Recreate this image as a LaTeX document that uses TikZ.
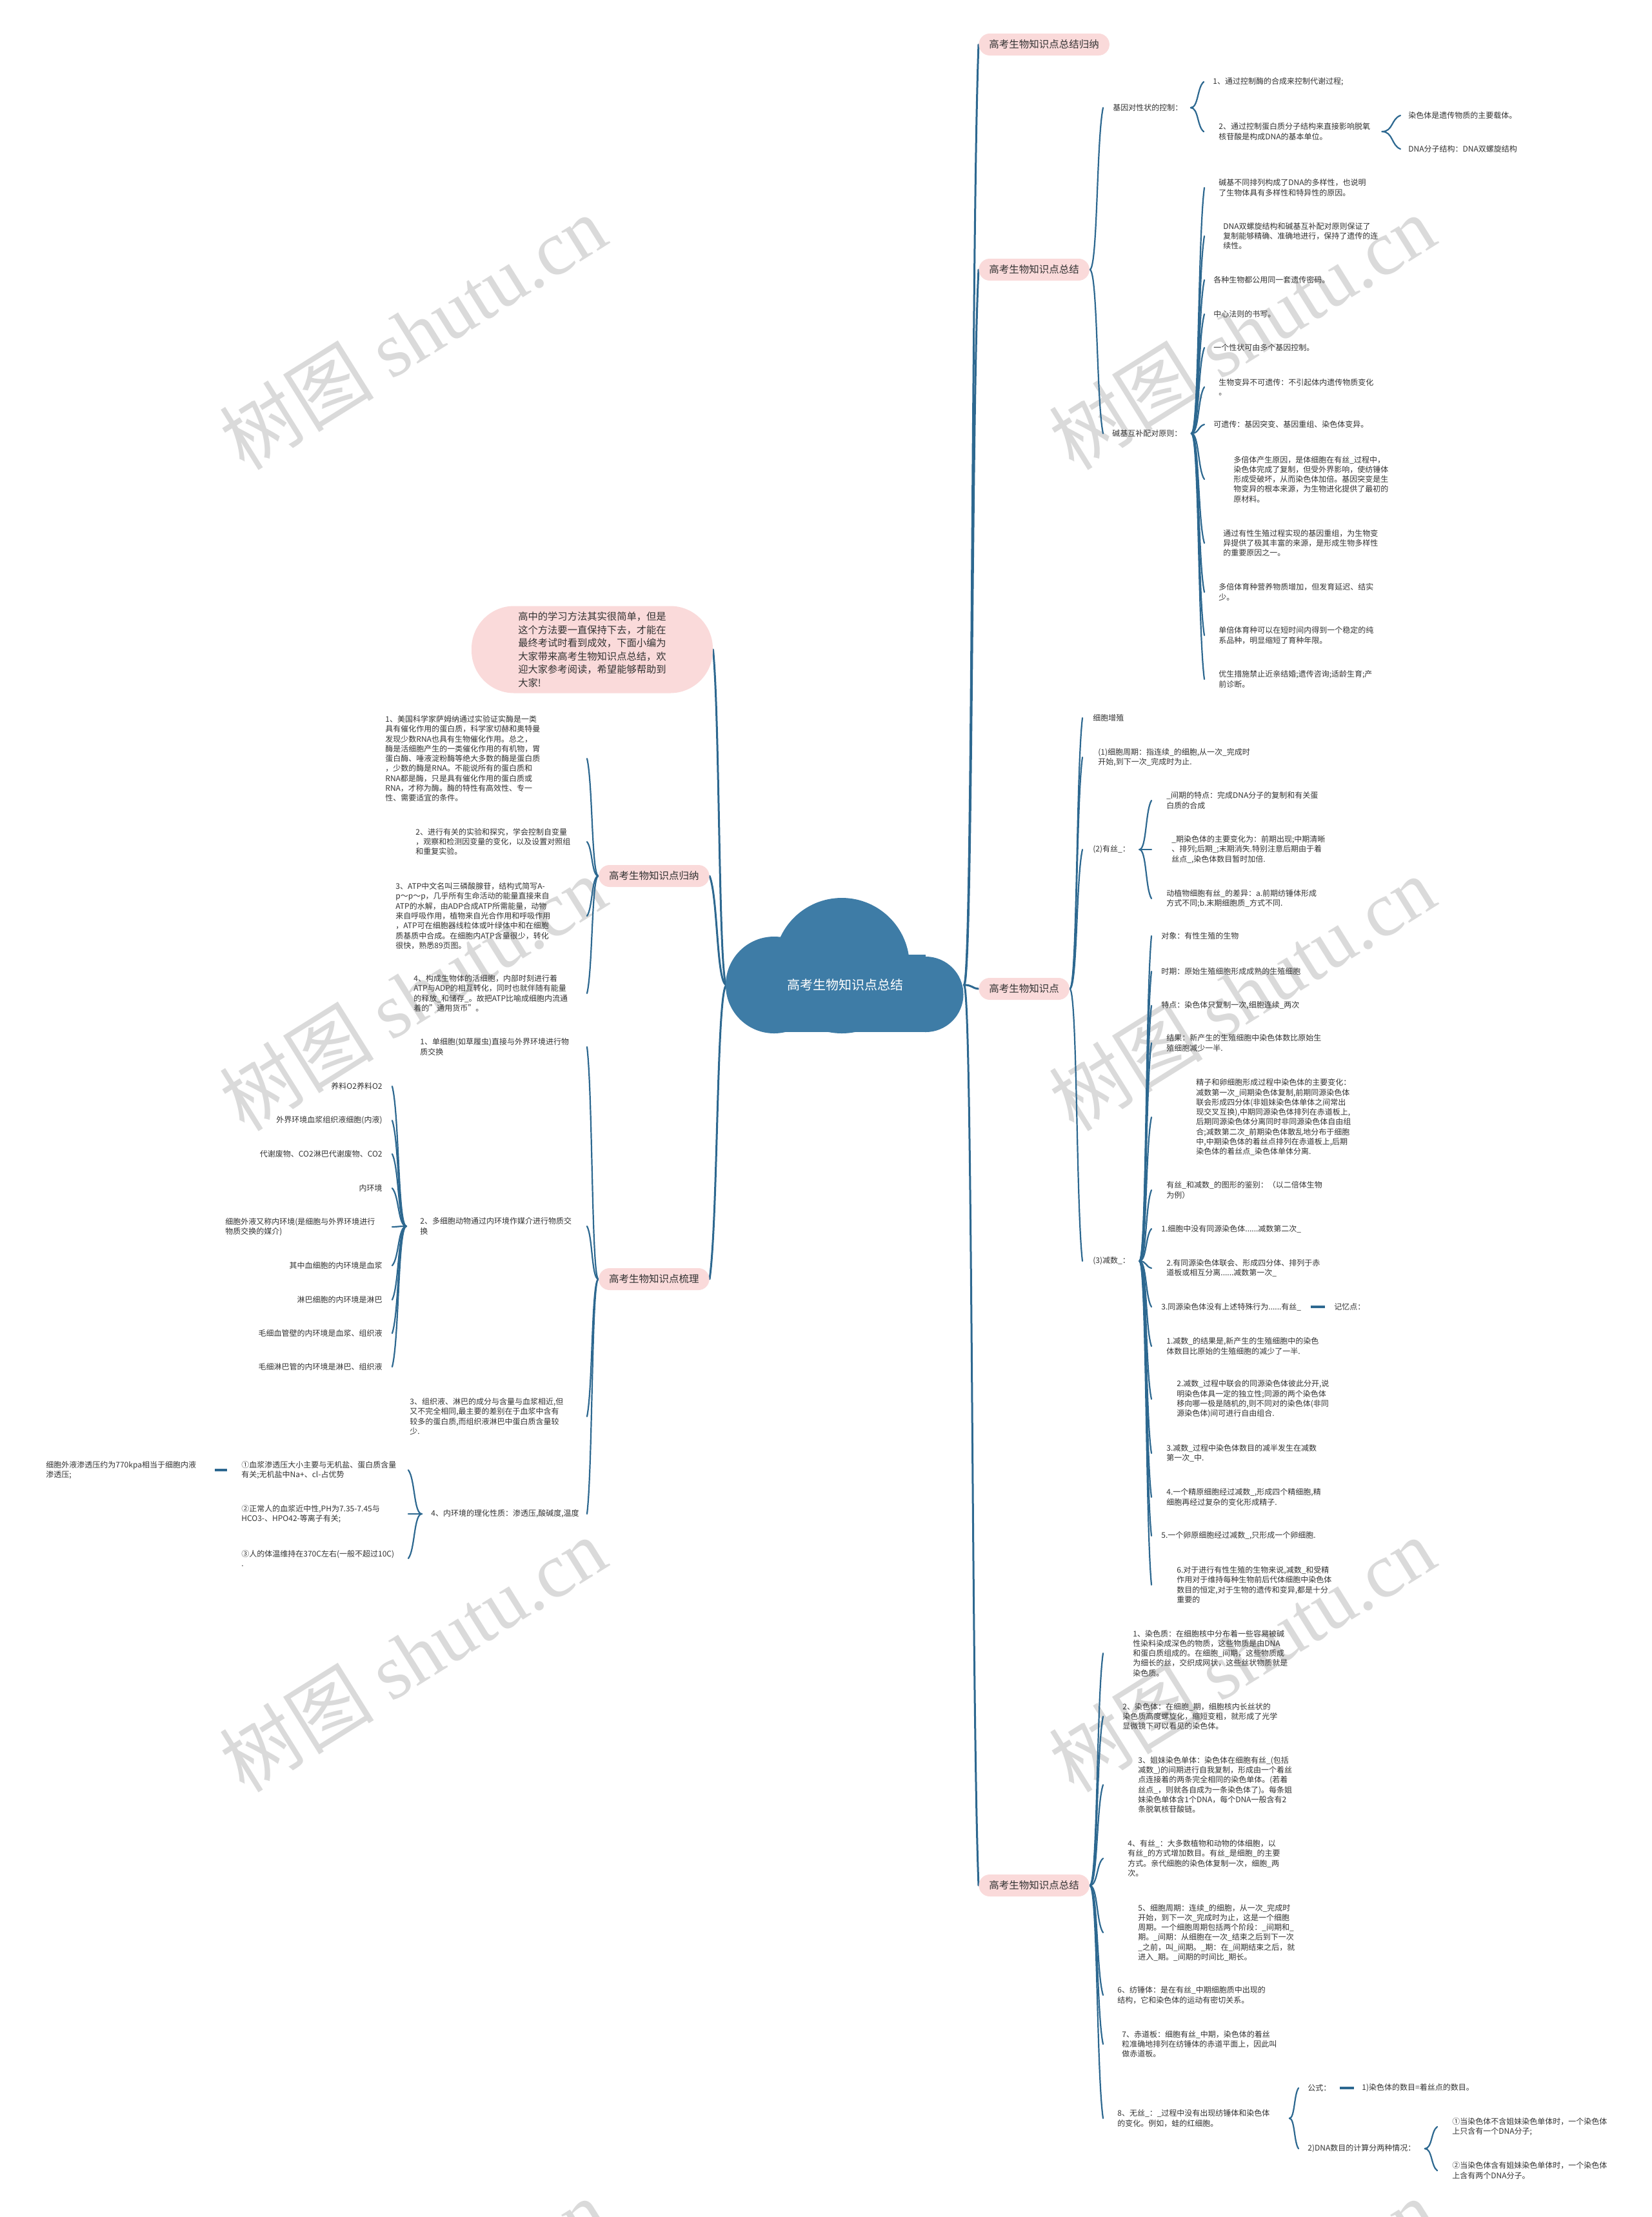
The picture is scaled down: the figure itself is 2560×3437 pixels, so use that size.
\documentclass[tikz,border=0pt]{standalone}
\usepackage{fontspec}
\setmainfont{Noto Sans CJK SC}
\newfontfamily\wmlatin{Liberation Serif}
\usetikzlibrary{calc}
\pgfdeclarelayer{bg}
\pgfsetlayers{bg,main}
\definecolor{pinkc}{HTML}{FADADA}
\definecolor{cloudc}{HTML}{3E7CA6}
\definecolor{linec}{HTML}{2D6890}
\definecolor{textc}{HTML}{333333}
\definecolor{wmc}{HTML}{DADADA}
\tikzset{
 btitle/.style={fill=pinkc, rounded corners=8.5pt, minimum height=17pt, inner xsep=8pt, inner ysep=0pt, text=textc, font=\fontsize{7.75}{9}\selectfont},
 txt/.style={inner sep=0pt, align=left, text=textc, font=\fontsize{6}{7.65}\selectfont},
 conn/.style={draw=linec, line width=1.1pt, line cap=round},
 trunk/.style={draw=linec, line width=1.5pt, line cap=round},
 dashln/.style={draw=linec, line width=1.6pt},
 wm/.style={text=wmc, rotate=32, font=\fontsize{60}{62}\selectfont, inner sep=0pt},
}
\newcommand{\mmlink}[3][conn]{\draw[#1] let \p1=(#2), \p2=(#3) in (\p1) .. controls ({\x1+0.6*(\x2-\x1)},\y1) and ({\x2-0.5*(\x2-\x1)},{\y2-0.2*(\y2-\y1)}) .. (\p2);}
\begin{document}
\begin{tikzpicture}[x=0.5pt,y=-0.5pt]
\useasboundingbox (0,0) rectangle (2560,3437);

% ---------- centre ----------
\node[minimum width=183.5pt, inner sep=0pt, text=white, font=\fontsize{10}{12}\selectfont] (c) at (1310.5,1527) {高考生物知识点总结};

% ---------- right branch titles ----------
\node[btitle, anchor=west] (b1) at (1517,69) {高考生物知识点总结归纳};
\node[btitle, anchor=west] (b2) at (1517,418) {高考生物知识点总结};
\node[btitle, anchor=west] (b3) at (1517,1533) {高考生物知识点};
\node[btitle, anchor=west] (b4) at (1517,2923) {高考生物知识点总结};

% ---------- left branch titles ----------
\node[fill=pinkc, rounded corners=33pt, minimum width=187pt, minimum height=67.5pt, inner sep=0pt, align=left, text=textc, font=\fontsize{7.65}{10.25}\selectfont] (intro) at (918,1007) {高中的学习方法其实很简单，但是\\这个方法要一直保持下去，才能在\\最终考试时看到成效，下面小编为\\大家带来高考生物知识点总结，欢\\迎大家参考阅读，希望能够帮助到\\大家!};
\node[btitle, anchor=east] (gn) at (1100,1358) {高考生物知识点归纳};
\node[btitle, anchor=east] (sl) at (1100,1983) {高考生物知识点梳理};

% ---------- b2 ----------
\node[txt, anchor=west] (kz) at (1725,167) {基因对性状的控制：};
\node[txt, anchor=west] (kz1) at (1880,127) {1、通过控制酶的合成来控制代谢过程;};
\node[txt, anchor=west] (kz2) at (1889,204) {2、通过控制蛋白质分子结构来直接影响脱氧\\核苷酸是构成DNA的基本单位。};
\node[txt, anchor=west] (kz2a) at (2183,179) {染色体是遗传物质的主要载体。};
\node[txt, anchor=west] (kz2b) at (2183,231) {DNA分子结构：DNA双螺旋结构};
\node[txt, anchor=west] (jd) at (1724,672) {碱基互补配对原则：};
\node[txt, anchor=west] (jd1) at (1889,291) {碱基不同排列构成了DNA的多样性，也说明\\了生物体具有多样性和特异性的原因。};
\node[txt, anchor=west] (jd2) at (1896,366) {DNA双螺旋结构和碱基互补配对原则保证了\\复制能够精确、准确地进行，保持了遗传的连\\续性。};
\node[txt, anchor=west] (jd3) at (1881,434) {各种生物都公用同一套遗传密码。};
\node[txt, anchor=west] (jd4) at (1881,487) {中心法则的书写。};
\node[txt, anchor=west] (jd5) at (1881,539) {一个性状可由多个基因控制。};
\node[txt, anchor=west] (jd6) at (1889,600) {生物变异不可遗传：不引起体内遗传物质变化\\。};
\node[txt, anchor=west] (jd7) at (1881,658) {可遗传：基因突变、基因重组、染色体变异。};
\node[txt, anchor=west] (jd8) at (1912,743) {多倍体产生原因，是体细胞在有丝\_过程中，\\染色体完成了复制，但受外界影响，使纺锤体\\形成受破坏，从而染色体加倍。基因突变是生\\物变异的根本来源，为生物进化提供了最初的\\原材料。};
\node[txt, anchor=west] (jd9) at (1896,842) {通过有性生殖过程实现的基因重组，为生物变\\异提供了极其丰富的来源，是形成生物多样性\\的重要原因之一。};
\node[txt, anchor=west] (jd10) at (1889,918) {多倍体育种营养物质增加，但发育延迟、结实\\少。};
\node[txt, anchor=west] (jd11) at (1889,985) {单倍体育种可以在短时间内得到一个稳定的纯\\系品种，明显缩短了育种年限。};
\node[txt, anchor=west] (jd12) at (1889,1053) {优生措施禁止近亲结婚;遗传咨询;适龄生育;产\\前诊断。};

% ---------- b3 ----------
\node[txt, anchor=west] (zz) at (1694,1113) {细胞增殖};
\node[txt, anchor=west] (zq) at (1702,1174) {(1)细胞周期：指连续\_的细胞,从一次\_完成时\\开始,到下一次\_完成时为止.};
\node[txt, anchor=west] (ys) at (1694,1317) {(2)有丝\_：};
\node[txt, anchor=west] (ys1) at (1808,1241) {\_间期的特点：完成DNA分子的复制和有关蛋\\白质的合成};
\node[txt, anchor=west] (ys2) at (1816,1317) {\_期染色体的主要变化为：前期出现;中期清晰\\、排列;后期\_;末期消失.特别注意后期由于着\\丝点\_,染色体数目暂时加倍.};
\node[txt, anchor=west] (ys3) at (1808,1393) {动植物细胞有丝\_的差异：a.前期纺锤体形成\\方式不同;b.末期细胞质\_方式不同.};
\node[txt, anchor=west] (js) at (1694,1955) {(3)减数\_：};
\node[txt, anchor=west] (js1) at (1800,1451) {对象：有性生殖的生物};
\node[txt, anchor=west] (js2) at (1800,1506) {时期：原始生殖细胞形成成熟的生殖细胞};
\node[txt, anchor=west] (js3) at (1800,1559) {特点：染色体只复制一次,细胞连续\_两次};
\node[txt, anchor=west] (js4) at (1808,1617) {结果：新产生的生殖细胞中染色体数比原始生\\殖细胞减少一半.};
\node[txt, anchor=west] (js5) at (1854,1732) {精子和卵细胞形成过程中染色体的主要变化：\\减数第一次\_间期染色体复制,前期同源染色体\\联会形成四分体(非姐妹染色体单体之间常出\\现交叉互换),中期同源染色体排列在赤道板上,\\后期同源染色体分离同时非同源染色体自由组\\合;减数第二次\_前期染色体散乱地分布于细胞\\中,中期染色体的着丝点排列在赤道板上,后期\\染色体的着丝点\_染色体单体分离.};
\node[txt, anchor=west] (js6) at (1808,1845) {有丝\_和减数\_的图形的鉴别：（以二倍体生物\\为例）};
\node[txt, anchor=west] (js7) at (1800,1905) {1.细胞中没有同源染色体......减数第二次\_};
\node[txt, anchor=west] (js8) at (1808,1966) {2.有同源染色体联会、形成四分体、排列于赤\\道板或相互分离......减数第一次\_};
\node[txt, anchor=west] (js9) at (1800,2026) {3.同源染色体没有上述特殊行为......有丝\_};
\node[txt, anchor=west] (jy) at (2068,2026) {记忆点：};
\node[txt, anchor=west] (js10) at (1808,2087) {1.减数\_的结果是,新产生的生殖细胞中的染色\\体数目比原始的生殖细胞的减少了一半.};
\node[txt, anchor=west] (js11) at (1824,2169) {2.减数\_过程中联会的同源染色体彼此分开,说\\明染色体具一定的独立性;同源的两个染色体\\移向哪一极是随机的,则不同对的染色体(非同\\源染色体)间可进行自由组合.};
\node[txt, anchor=west] (js12) at (1808,2253) {3.减数\_过程中染色体数目的减半发生在减数\\第一次\_中.};
\node[txt, anchor=west] (js13) at (1808,2321) {4.一个精原细胞经过减数\_,形成四个精细胞,精\\细胞再经过复杂的变化形成精子.};
\node[txt, anchor=west] (js14) at (1800,2381) {5.一个卵原细胞经过减数\_,只形成一个卵细胞.};
\node[txt, anchor=west] (js15) at (1824,2457) {6.对于进行有性生殖的生物来说,减数\_和受精\\作用对于维持每种生物前后代体细胞中染色体\\数目的恒定,对于生物的遗传和变异,都是十分\\重要的};

% ---------- b4 ----------
\node[txt, anchor=west] (z1) at (1756,2563) {1、染色质：在细胞核中分布着一些容易被碱\\性染料染成深色的物质，这些物质是由DNA\\和蛋白质组成的。在细胞\_间期，这些物质成\\为细长的丝，交织成网状，这些丝状物质就是\\染色质。};
\node[txt, anchor=west] (z2) at (1740,2661) {2、染色体：在细胞\_期，细胞核内长丝状的\\染色质高度螺旋化，缩短变粗，就形成了光学\\显微镜下可以看见的染色体。};
\node[txt, anchor=west] (z3) at (1764,2767) {3、姐妹染色单体：染色体在细胞有丝\_(包括\\减数\_)的间期进行自我复制，形成由一个着丝\\点连接着的两条完全相同的染色单体。(若着\\丝点\_，则就各自成为一条染色体了)。每条姐\\妹染色单体含1个DNA，每个DNA一般含有2\\条脱氧核苷酸链。};
\node[txt, anchor=west] (z4) at (1748,2881) {4、有丝\_：大多数植物和动物的体细胞，以\\有丝\_的方式增加数目。有丝\_是细胞\_的主要\\方式。亲代细胞的染色体复制一次，细胞\_两\\次。};
\node[txt, anchor=west] (z5) at (1764,2996) {5、细胞周期：连续\_的细胞，从一次\_完成时\\开始，到下一次\_完成时为止，这是一个细胞\\周期。一个细胞周期包括两个阶段：\_间期和\_\\期。\_间期：从细胞在一次\_结束之后到下一次\\\_之前，叫\_间期。\_期：在\_间期结束之后，就\\进入\_期。\_间期的时间比\_期长。};
\node[txt, anchor=west] (z6) at (1732,3093) {6、纺锤体：是在有丝\_中期细胞质中出现的\\结构，它和染色体的运动有密切关系。};
\node[txt, anchor=west] (z7) at (1739,3169) {7、赤道板：细胞有丝\_中期，染色体的着丝\\粒准确地排列在纺锤体的赤道平面上，因此叫\\做赤道板。};
\node[txt, anchor=west] (z8) at (1732,3284) {8、无丝\_：\_过程中没有出现纺锤体和染色体\\的变化。例如，蛙的红细胞。};
\node[txt, anchor=west] (gs) at (2027,3237) {公式：};
\node[txt, anchor=west] (gs1) at (2111,3237) {1)染色体的数目=着丝点的数目。};
\node[txt, anchor=west] (dn) at (2027,3331) {2)DNA数目的计算分两种情况：};
\node[txt, anchor=west] (dn1) at (2251,3297) {①当染色体不含姐妹染色单体时，一个染色体\\上只含有一个DNA分子;};
\node[txt, anchor=west] (dn2) at (2251,3365) {②当染色体含有姐妹染色单体时，一个染色体\\上含有两个DNA分子。};

% ---------- left: gn ----------
\node[txt, anchor=west] (g1) at (597,1176) {1、美国科学家萨姆纳通过实验证实酶是一类\\具有催化作用的蛋白质，科学家切赫和奥特曼\\发现少数RNA也具有生物催化作用。总之，\\酶是活细胞产生的一类催化作用的有机物，胃\\蛋白酶、唾液淀粉酶等绝大多数的酶是蛋白质\\，少数的酶是RNA。不能说所有的蛋白质和\\RNA都是酶，只是具有催化作用的蛋白质或\\RNA，才称为酶。酶的特性有高效性、专一\\性、需要适宜的条件。};
\node[txt, anchor=west] (g2) at (644,1305) {2、进行有关的实验和探究，学会控制自变量\\，观察和检测因变量的变化，以及设置对照组\\和重复实验。};
\node[txt, anchor=west] (g3) at (613,1420) {3、ATP中文名叫三磷酸腺苷，结构式简写A-\\p～p～p，几乎所有生命活动的能量直接来自\\ATP的水解，由ADP合成ATP所需能量，动物\\来自呼吸作用，植物来自光合作用和呼吸作用\\，ATP可在细胞器线粒体或叶绿体中和在细胞\\质基质中合成。在细胞内ATP含量很少，转化\\很快，熟悉89页图。};
\node[txt, anchor=west] (g4) at (641,1540) {4、构成生物体的活细胞，内部时刻进行着\\ATP与ADP的相互转化，同时也就伴随有能量\\的释放\_和储存\_。故把ATP比喻成细胞内流通\\着的"通用货币"。};

% ---------- left: sl ----------
\node[txt, anchor=west] (s1) at (651,1623) {1、单细胞(如草履虫)直接与外界环境进行物\\质交换};
\node[txt, anchor=west] (s2) at (651,1901) {2、多细胞动物通过内环境作媒介进行物质交\\换};
\node[txt, anchor=east] (s2a) at (593,1684) {养料O2养料O2};
\node[txt, anchor=east] (s2b) at (593,1737) {外界环境血浆组织液细胞(内液)};
\node[txt, anchor=east] (s2c) at (593,1789) {代谢废物、CO2淋巴代谢废物、CO2};
\node[txt, anchor=east] (s2d) at (593,1842) {内环境};
\node[txt, anchor=west] (s2e) at (349,1902) {细胞外液又称内环境(是细胞与外界环境进行\\物质交换的媒介)};
\node[txt, anchor=east] (s2f) at (593,1962) {其中血细胞的内环境是血浆};
\node[txt, anchor=east] (s2g) at (593,2015) {淋巴细胞的内环境是淋巴};
\node[txt, anchor=east] (s2h) at (593,2067) {毛细血管壁的内环境是血浆、组织液};
\node[txt, anchor=east] (s2i) at (593,2119) {毛细淋巴管的内环境是淋巴、组织液};
\node[txt, anchor=west] (s3) at (635,2196) {3、组织液、淋巴的成分与含量与血浆相近,但\\又不完全相同,最主要的差别在于血浆中含有\\较多的蛋白质,而组织液淋巴中蛋白质含量较\\少.};
\node[txt, anchor=west] (s4) at (668,2347) {4、内环境的理化性质：渗透压,酸碱度,温度};
\node[txt, anchor=west] (s4a) at (374,2279) {①血浆渗透压大小主要与无机盐、蛋白质含量\\有关;无机盐中Na+、cl-占优势};
\node[txt, anchor=west] (s4b) at (374,2347) {②正常人的血浆近中性,PH为7.35-7.45与\\HCO3-、HPO42-等离子有关;};
\node[txt, anchor=west] (s4c) at (374,2416) {③人的体温维持在370C左右(一般不超过10C)\\.};
\node[txt, anchor=west] (s4x) at (71,2279) {细胞外液渗透压约为770kpa相当于细胞内液\\渗透压;};

% ---------- connector end columns ----------
\coordinate (xb2) at (1710,0);
\coordinate (xkz) at (1866,0);
\coordinate (xkz2) at (2171,0);
\coordinate (xjd) at (1867,0);
\coordinate (xb3) at (1678,0);
\coordinate (xys) at (1785,0);
\coordinate (xb4) at (1710,0);
\coordinate (xz8) at (2013,0);
\coordinate (xdn) at (2228,0);
\coordinate (xgn) at (910,0);
\coordinate (xs2) at (608,0);
\coordinate (xs4) at (633,0);

\begin{pgfonlayer}{bg}
\fill[white] (0,0) rectangle (2560,3437);
\begin{scope}
\clip (0,0) rectangle (2560,3437);
\foreach \wx in {640,1925}{
  \foreach \wy in {515,1540,2565,3590}{
    \node[wm] at (\wx,\wy) {树图 {\wmlatin shutu.cn}};
  }
}
\end{scope}

% trunk right
\mmlink[trunk]{c.east}{b1.west}
\mmlink[trunk]{c.east}{b2.west}
\mmlink[trunk]{c.east}{b3.west}
\mmlink[trunk]{c.east}{b4.west}
% trunk left
\mmlink[trunk]{c.west}{intro.east}
\mmlink[trunk]{c.west}{gn.east}
\mmlink[trunk]{c.west}{sl.east}

% b2
\mmlink{b2.east}{kz.west -| xb2}
\mmlink{b2.east}{jd.west -| xb2}
\coordinate (hkz) at ($(kz.east)+(12,0)$);
\foreach \nd in {kz1,kz2}{\mmlink{hkz}{\nd.west -| xkz}}
\coordinate (hkz2) at ($(kz2.east)+(18,0)$);
\foreach \nd in {kz2a,kz2b}{\mmlink{hkz2}{\nd.west -| xkz2}}
\coordinate (hjd) at ($(jd.east)+(14,0)$);
\foreach \nd in {jd1,jd2,jd3,jd4,jd5,jd6,jd7,jd8,jd9,jd10,jd11,jd12}{\mmlink{hjd}{\nd.west -| xjd}}

% b3
\foreach \nd in {zz,zq,ys,js}{\mmlink{b3.east}{\nd.west -| xb3}}
\coordinate (hys) at ($(ys.east)+(14,0)$);
\foreach \nd in {ys1,ys2,ys3}{\mmlink{hys}{\nd.west -| xys}}
\coordinate (hjs) at ($(js.east)+(14,0)$);
\foreach \nd in {js1,js2,js3,js4,js5,js6,js7,js8,js9,js10,js11,js12,js13,js14,js15}{\mmlink{hjs}{\nd.west -| xys}}
\draw[dashln] ($(js9.east)+(14,0)$) -- ($(jy.west)+(-14,0)$);

% b4
\foreach \nd in {z1,z2,z3,z4,z5,z6,z7,z8}{\mmlink{b4.east}{\nd.west -| xb4}}
\coordinate (hz8) at ($(z8.east)+(30,0)$);
\foreach \nd in {gs,dn}{\mmlink{hz8}{\nd.west -| xz8}}
\draw[dashln] ($(gs.east)+(13,0)$) -- ($(gs1.west)+(-12,0)$);
\coordinate (hdn) at ($(dn.east)+(14,0)$);
\foreach \nd in {dn1,dn2}{\mmlink{hdn}{\nd.west -| xdn}}

% left gn
\foreach \nd in {g1,g2,g3,g4}{\mmlink{gn.west}{\nd.west -| xgn}}
% left sl
\foreach \nd in {s1,s2,s3,s4}{\mmlink{sl.west}{\nd.west -| xgn}}
\coordinate (hs2) at ($(s2.west)+(-21,0)$);
\foreach \nd in {s2a,s2b,s2c,s2d,s2e,s2f,s2g,s2h,s2i}{\mmlink{hs2}{\nd.west -| xs2}}
\coordinate (hs4) at ($(s4.west)+(-14,0)$);
\foreach \nd in {s4a,s4b,s4c}{\mmlink{hs4}{\nd.west -| xs4}}
\draw[dashln] ($(s4a.west)+(-22,0)$) -- ($(s4x.east)+(29,0)$);

% cloud
\fill[cloudc] (1200,1480) rectangle (1435,1600);
\fill[cloudc] (1200,1527) circle[radius=37.5pt];
\fill[cloudc] (1305,1497) circle[radius=52.5pt];
\fill[cloudc] (1435,1541.5) circle[radius=29.25pt];
\end{pgfonlayer}
\end{tikzpicture}
\end{document}
